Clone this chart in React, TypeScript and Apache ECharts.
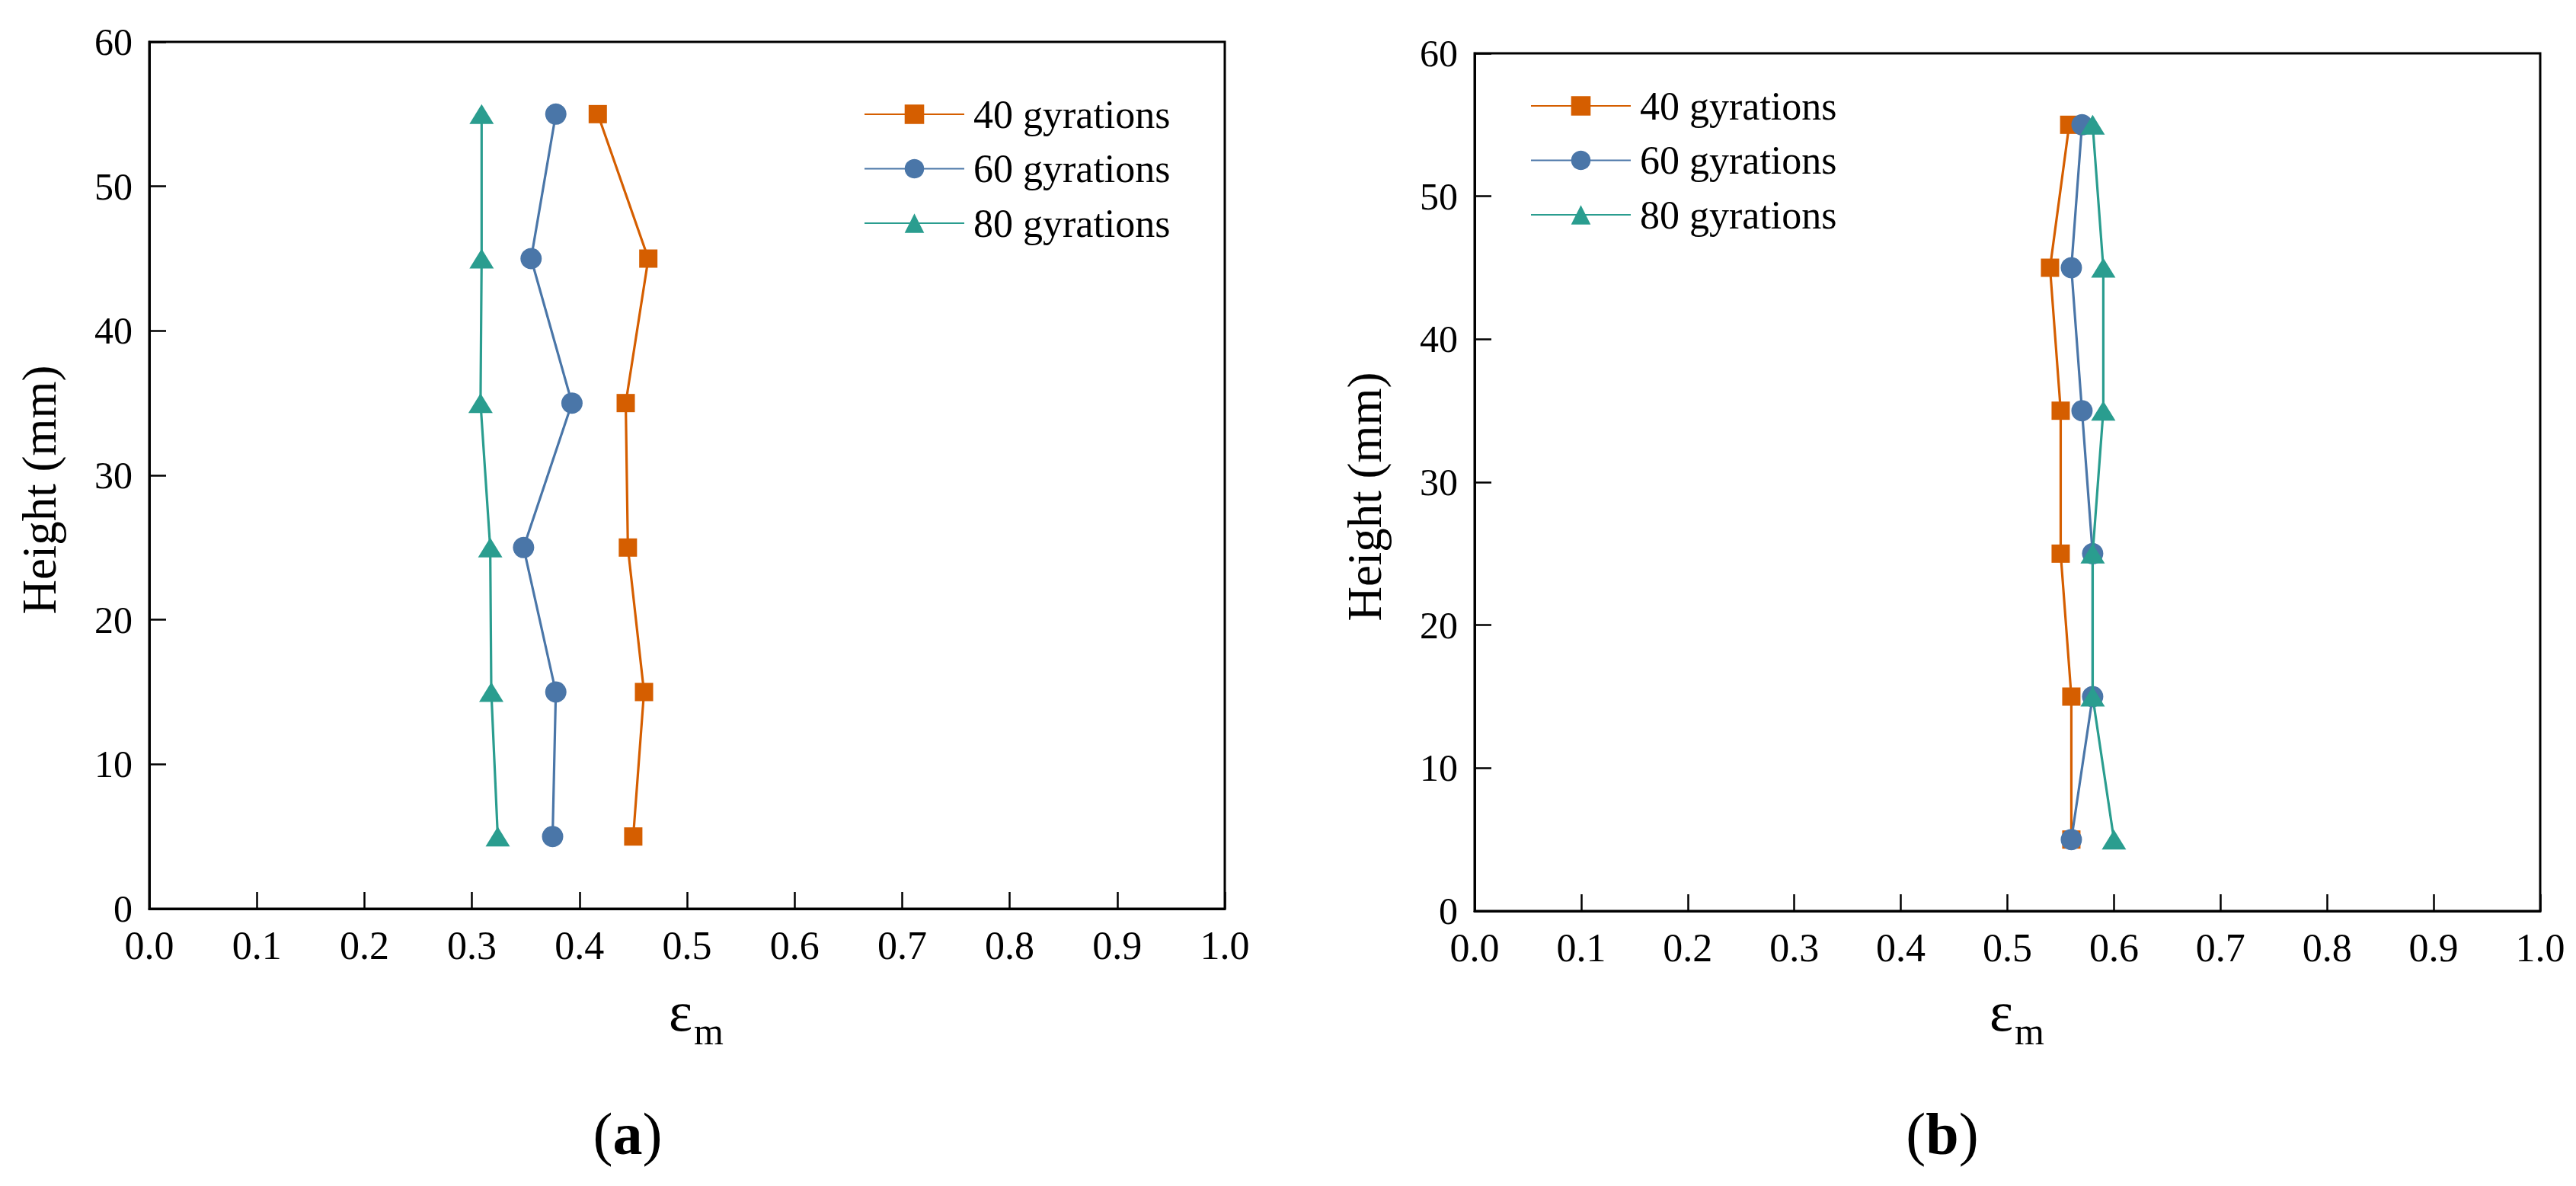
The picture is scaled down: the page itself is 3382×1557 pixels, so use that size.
import React, { useEffect, useRef } from "react";
import * as echarts from "echarts";

// ---------- data ----------
const heights = [5, 15, 25, 35, 45, 55];
const seriesNames = ["40 gyrations", "60 gyrations", "80 gyrations"];
const xTickLabels = ["0.0", "0.1", "0.2", "0.3", "0.4", "0.5", "0.6", "0.7", "0.8", "0.9", "1.0"];
const yTickLabels = ["0", "10", "20", "30", "40", "50", "60"];

// panel (a): epsilon_m at each height
const a40 = [0.45, 0.46, 0.445, 0.443, 0.464, 0.417];
const a60 = [0.375, 0.378, 0.348, 0.393, 0.355, 0.378];
const a80 = [0.324, 0.318, 0.317, 0.308, 0.309, 0.309];

// panel (b)
const b40 = [0.56, 0.56, 0.55, 0.55, 0.54, 0.558];
const b60 = [0.56, 0.58, 0.58, 0.57, 0.56, 0.57];
const b80 = [0.6, 0.58, 0.58, 0.59, 0.59, 0.58];

const panelLabels = ["a", "b"];

// ---------- styles ----------
const FONT = "'Liberation Serif', 'Times New Roman', serif";
const COLORS = ["#D55E00", "#4A76A8", "#2A9D8F"];
const SYMBOLS = ["rect", "circle", "triangle"];
const SYMBOL_SIZES: any[] = [24, 28, [32, 26]];

function pairs(xs: number[]) {
  return xs.map((x, i) => [x, heights[i]]);
}

function makeX(gridIndex: number) {
  return {
    type: "value",
    gridIndex,
    min: 0,
    max: 1,
    interval: 0.1,
    axisLine: { show: true, onZero: false, lineStyle: { color: "#000", width: 3 } },
    axisTick: { show: true, inside: true, length: 22, lineStyle: { color: "#000", width: 2.5 } },
    axisLabel: {
      color: "#000",
      fontSize: 52,
      lineHeight: 52,
      fontFamily: FONT,
      margin: 22,
      formatter: (v: number) => xTickLabels[Math.round(v * 10)] ?? "",
    },
    splitLine: { show: false },
  };
}

function makeY(gridIndex: number) {
  return {
    type: "value",
    gridIndex,
    min: 0,
    max: 60,
    interval: 10,
    name: "Height (mm)",
    nameLocation: "middle",
    nameGap: 113,
    nameTextStyle: { color: "#000", fontSize: 63, fontFamily: FONT, padding: [0, 38, 0, 0] },
    axisLine: { show: true, onZero: false, lineStyle: { color: "#000", width: 3 } },
    axisTick: { show: true, inside: true, length: 22, lineStyle: { color: "#000", width: 2.5 } },
    axisLabel: {
      color: "#000",
      fontSize: 50,
      lineHeight: 38,
      fontFamily: FONT,
      margin: 22,
      formatter: (v: number) => yTickLabels[Math.round(v / 10)] ?? "",
    },
    splitLine: { show: false },
  };
}

function makeSeries(name: string, idx: number, values: number[], axis: number) {
  return {
    type: "line",
    name,
    xAxisIndex: axis,
    yAxisIndex: axis,
    data: pairs(values),
    symbol: SYMBOLS[idx],
    symbolSize: SYMBOL_SIZES[idx],
    lineStyle: { color: COLORS[idx], width: 3.2 },
    itemStyle: { color: COLORS[idx] },
    z: 2 + idx,
  };
}

function makeLegend(left: number, top: number) {
  return {
    orient: "vertical",
    left,
    top,
    padding: 0,
    itemWidth: 131,
    itemHeight: 32,
    itemGap: 19.5,
    selectedMode: false,
    data: seriesNames,
    textStyle: { color: "#000", fontSize: 52, fontFamily: FONT, padding: [0, 0, 0, 7] },
  };
}

function epsLabel(left: number) {
  return [
    {
      type: "text",
      x: left,
      y: 1328,
      style: { text: "ε", fontSize: 74, fontFamily: FONT, fill: "#000", align: "left", verticalAlign: "middle" },
    },
    {
      type: "text",
      x: left + 33,
      y: 1354,
      style: { text: "m", fontSize: 50, fontFamily: FONT, fill: "#000", align: "left", verticalAlign: "middle" },
    },
  ];
}

function panelLabel(cx: number, letter: string) {
  return {
    type: "text",
    x: cx,
    y: 1488,
    style: {
      text: "{n|(}{b|" + letter + "}{n|)}",
      align: "center",
      verticalAlign: "middle",
      rich: {
        n: { fontSize: 78, fontFamily: FONT, fill: "#000", color: "#000" },
        b: { fontSize: 78, fontFamily: FONT, fontWeight: "bold", fill: "#000", color: "#000" },
      },
    },
  };
}

export default function App() {
  const ref = useRef<HTMLDivElement>(null);

  useEffect(() => {
    if (!ref.current) return;
    const chart = echarts.init(ref.current, undefined, { renderer: "svg" });
    const option: any = {
      animation: false,
      backgroundColor: "#fff",
      textStyle: { fontFamily: FONT },
      grid: [
        { left: 196, top: 55, width: 1412, height: 1138, show: true, borderColor: "#000", borderWidth: 3, backgroundColor: "transparent" },
        { left: 1936, top: 70, width: 1399, height: 1126, show: true, borderColor: "#000", borderWidth: 3, backgroundColor: "transparent" },
      ],
      xAxis: [makeX(0), makeX(1)],
      yAxis: [makeY(0), makeY(1)],
      legend: [makeLegend(1134, 124), makeLegend(2009, 113)],
      series: [
        makeSeries(seriesNames[0], 0, a40, 0),
        makeSeries(seriesNames[1], 1, a60, 0),
        makeSeries(seriesNames[2], 2, a80, 0),
        makeSeries(seriesNames[0], 0, b40, 1),
        makeSeries(seriesNames[1], 1, b60, 1),
        makeSeries(seriesNames[2], 2, b80, 1),
      ],
      graphic: [
        ...epsLabel(878),
        ...epsLabel(2612),
        panelLabel(824, panelLabels[0]),
        panelLabel(2550, panelLabels[1]),
      ],
    };
    chart.setOption(option);
    return () => chart.dispose();
  }, []);

  return (
    <div
      ref={ref}
      style={{ position: "absolute", left: 0, top: 0, width: 3382, height: 1557, background: "#fff" }}
    />
  );
}
